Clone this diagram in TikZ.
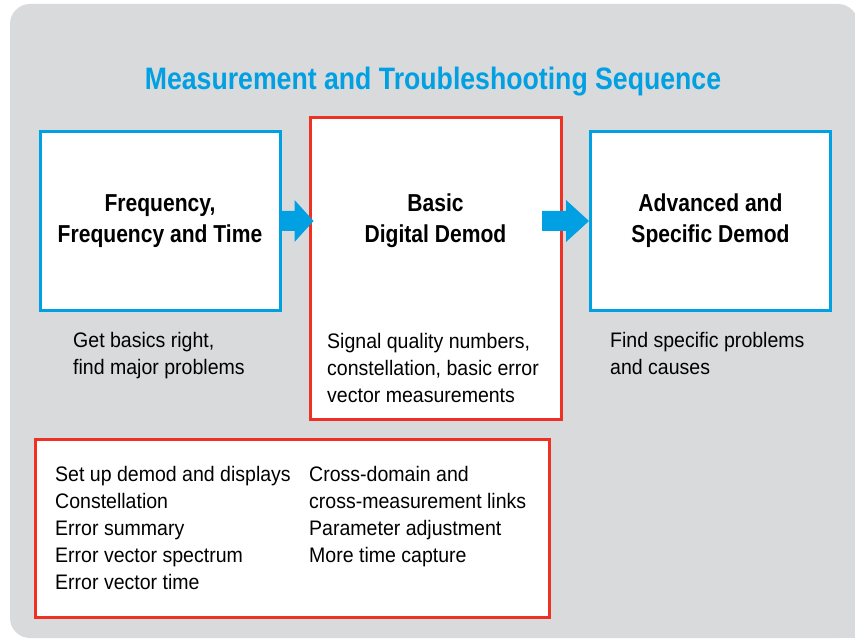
\documentclass[tikz,border=0pt]{standalone}
\usepackage{fontspec}
\usetikzlibrary{calc}
\setmainfont{Liberation Sans}
\newfontfamily\headfont[FakeStretch=0.86]{Liberation Sans}
\newfontfamily\bodyfont[FakeStretch=0.93]{Liberation Sans}
\definecolor{panelgray}{HTML}{D9DADC}
\definecolor{seqblue}{HTML}{00A0E2}
\definecolor{seqred}{HTML}{EE3124}
\begin{document}
\begin{tikzpicture}[x=1pt,y=-1pt,
  panel/.style={fill=panelgray,rounded corners=20pt},
  bluebox/.style={draw=seqblue,fill=white,line width=3pt,minimum width=240pt,minimum height=179pt},
  redbox/.style={draw=seqred,fill=white,line width=3pt},
  headtext/.style={font=\headfont\bfseries\fontsize{24.5}{31}\selectfont,align=center,inner sep=0pt,anchor=base},
  bodytext/.style={font=\bodyfont\fontsize{21}{27}\selectfont,align=left,inner sep=0pt,anchor=base west},
  arrowfill/.style={fill=seqblue}]
\useasboundingbox (0,0) rectangle (855,639);
% grey backdrop panel
\fill[panel] (10,4) rectangle (858,638);
\fill[panelgray] (40,600) rectangle (858,638);

% title
\node[font=\headfont\bfseries\fontsize{31}{36}\selectfont,text=seqblue,anchor=base,inner sep=0pt] (title) at (433,90) {Measurement and Troubleshooting Sequence};

% three stage boxes
\node[bluebox] (b1) at (160,221) {};
\node[redbox,minimum width=251pt,minimum height=301pt] (b2) at (435.5,268.5) {};
\node[bluebox] (b3) at (710.5,221) {};

% detail box
\node[redbox,minimum width=514pt,minimum height=178pt] (b4) at (292,528) {};

% arrows between stages
\fill[arrowfill] ($(b1.east)+(0,-10)$) -- ($(b1.east)+(13,-10)$) -- ($(b1.east)+(13,-21)$)
  -- ($(b2.west |- b1.east)+(5,0)$) -- ($(b1.east)+(13,21)$) -- ($(b1.east)+(13,10)$)
  -- ($(b1.east)+(0,10)$) -- cycle;
\fill[arrowfill] ($(b3.west)+(-47,-10)$) -- ($(b3.west)+(-23,-10)$) -- ($(b3.west)+(-23,-21)$)
  -- (b3.west) -- ($(b3.west)+(-23,21)$) -- ($(b3.west)+(-23,10)$)
  -- ($(b3.west)+(-47,10)$) -- cycle;

% stage titles (anchored on the last line's baseline)
\node[headtext] (t1) at (160,243) {Frequency,\\Frequency and Time};
\node[headtext] (t2) at (435.5,243) {Basic\\Digital Demod};
\node[headtext] (t3) at (710.5,243) {Advanced and\\Specific Demod};

% stage descriptions
\node[bodytext] (d1) at (73,374.5) {Get basics right,\\find major problems};
\node[bodytext] (d2) at (327,402.5) {Signal quality numbers,\\constellation, basic error\\vector measurements};
\node[bodytext] (d3) at (610,374) {Find specific problems\\and causes};

% detail lists
\node[bodytext] (l1) at (55,589) {Set up demod and displays\\Constellation\\Error summary\\Error vector spectrum\\Error vector time};
\node[bodytext] (l2) at (309,562) {Cross-domain and\\cross-measurement links\\Parameter adjustment\\More time capture};
\end{tikzpicture}
\end{document}
